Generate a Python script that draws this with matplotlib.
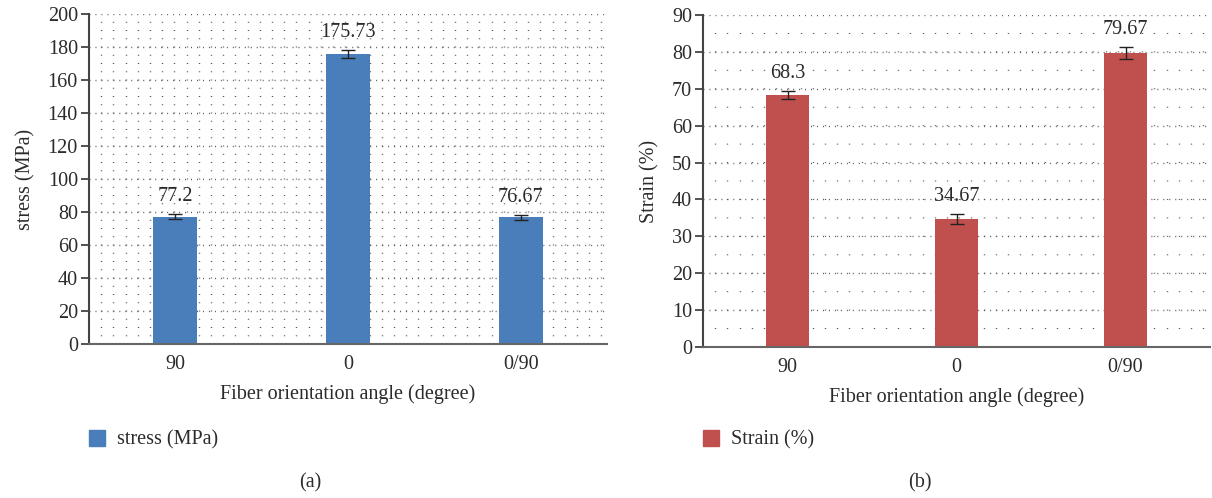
import numpy as np
import matplotlib
matplotlib.use("Agg")
import matplotlib.pyplot as plt
from matplotlib.patches import Patch

plt.rcParams['font.family'] = ['Liberation Serif', 'DejaVu Serif']

categories = ['90', '0', '0/90']
stress = [77.2, 175.73, 76.67]
stress_err = [1.6, 2.5, 1.4]
strain = [68.3, 34.67, 79.67]
strain_err = [1.1, 1.3, 1.6]

txt = '#2b2b2b'
grid_c = '#555555'
fs = 14.5

fig = plt.figure(figsize=(12.12, 4.98), dpi=100)


def panel(rect, vals, errs, color, ymax, major, minor_rows, ylabel, legend_label, caption, cap_x):
    ax = fig.add_axes(rect)
    x = np.arange(len(vals))
    ax.set_xlim(-0.5, len(vals) - 0.5)
    ax.set_ylim(0, ymax)
    ax.set_axisbelow(True)

    # horizontal major grid (dense dots)
    ax.set_yticks(np.arange(0, ymax + 1, major))
    ax.yaxis.grid(True, color=grid_c, lw=1.0, linestyle=(0, (0.7, 3.6)))
    # vertical dotted lines, dots spaced like minor rows
    bbox = ax.get_window_extent()
    row_pt = bbox.height / (ymax / minor_rows) * 0.72
    step = 12.2 / bbox.width * len(vals)
    ax.set_xticks(np.arange(-0.5 + step, len(vals) - 0.5, step), minor=True)
    ax.xaxis.grid(True, which='minor', color=grid_c, lw=1.0,
                  linestyle=(0, (0.7, row_pt - 0.7)))
    ax.tick_params(axis='x', which='minor', length=0)

    ax.bar(x, vals, width=0.255, color=color, zorder=2)
    ax.errorbar(x, vals, yerr=errs, fmt='none', ecolor='#222222',
                elinewidth=1.0, capsize=4.7, capthick=1.0, zorder=3)
    for xi, v, e in zip(x, vals, errs):
        ax.annotate(f'{v:g}', (xi, v + e), xytext=(0, 6), textcoords='offset points',
                    ha='center', va='bottom', fontsize=fs, color=txt)

    ax.set_xticks(x)
    ax.set_xticklabels(categories)
    ax.tick_params(axis='x', which='major', length=0, pad=8, labelsize=fs, labelcolor=txt)
    ax.tick_params(axis='y', length=6, width=1.3, color='#444444', pad=2,
                   labelsize=fs, labelcolor=txt)
    for s in ['top', 'right']:
        ax.spines[s].set_visible(False)
    ax.spines['left'].set_color('#444444')
    ax.spines['left'].set_linewidth(1.5)
    ax.spines['bottom'].set_color('#666666')
    ax.spines['bottom'].set_linewidth(1.5)
    ax.set_xlabel('Fiber orientation angle (degree)', fontsize=fs, color=txt, labelpad=7)
    ax.set_ylabel(ylabel, fontsize=fs, color=txt, labelpad=9)

    lx = rect[0]
    fig.legend(handles=[Patch(color=color, label=legend_label)], loc='center left',
               bbox_to_anchor=(lx, 1 - 440 / 498), frameon=False, borderpad=0,
               borderaxespad=0, fontsize=fs, handlelength=0.8, handleheight=0.8,
               handletextpad=0.6, labelcolor=txt)
    fig.text(cap_x, 1 - 483 / 498, caption, ha='center', va='center',
             fontsize=fs, color=txt)
    return ax


panel([89 / 1212, 1 - 344 / 498, 518 / 1212, 330 / 498], stress, stress_err,
      '#4a7ebb', 200, 20, 5, 'stress (MPa)', 'stress (MPa)', '(a)', 310 / 1212)
panel([703 / 1212, 1 - 347 / 498, 507 / 1212, 332 / 498], strain, strain_err,
      '#c0504d', 90, 10, 5, 'Strain (%)', 'Strain (%)', '(b)', 920 / 1212)

fig.savefig('out.png', dpi=100)
